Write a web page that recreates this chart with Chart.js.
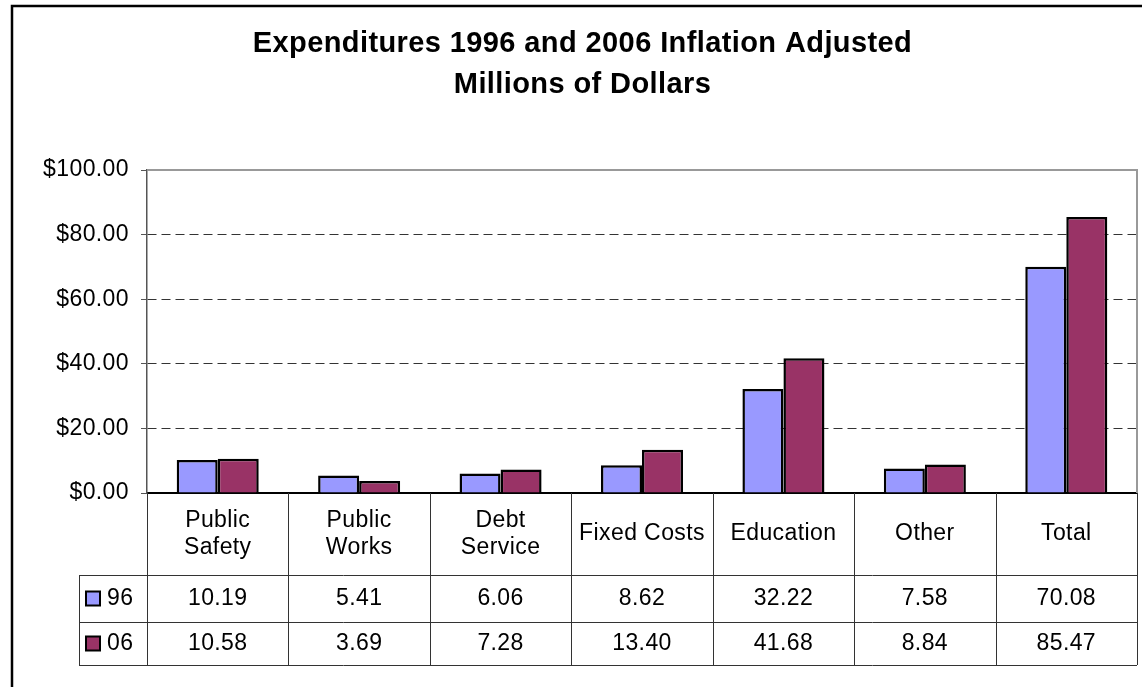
<!DOCTYPE html>
<html>
<head>
<meta charset="utf-8">
<script src="https://cdn.jsdelivr.net/npm/chart.js@4.4.0/dist/chart.umd.min.js"></script>
<style>
  body { margin: 0; background: #fff; }
  #wrap { width: 1142px; height: 687px; }
</style>
</head>
<body>
<div id="wrap"><canvas id="exp" width="1142" height="687"></canvas></div>
<script>
const categories = [['Public', 'Safety'], ['Public', 'Works'], ['Debt', 'Service'], ['Fixed Costs'], ['Education'], ['Other'], ['Total']];
const seriesNames = ['96', '06'];
const values96 = [10.19, 5.41, 6.06, 8.62, 32.22, 7.58, 70.08];
const values06 = [10.58, 3.69, 7.28, 13.40, 41.68, 8.84, 85.47];
const yMax = 100;
const yStep = 20;

const colors = ['#9999ff', '#993366'];
const fontFamily = '"Liberation Sans", Arial, sans-serif';

// the old excel text is a little wider than Arial, loosen it a bit
const spacingPlugin = {
  id: 'spacing',
  beforeLayout(chart) { chart.ctx.letterSpacing = '0.4px'; },
  beforeDraw(chart) { chart.ctx.letterSpacing = '0.4px'; }
};

// outer frame + solid plot border on top/right
const framePlugin = {
  id: 'frame',
  afterDraw(chart) {
    const {ctx, chartArea} = chart;
    ctx.save();
    ctx.strokeStyle = '#000';
    ctx.lineWidth = 2.5;
    ctx.beginPath();
    ctx.moveTo(12, chart.height);
    ctx.lineTo(12, 6);
    ctx.lineTo(chart.width, 6);
    ctx.stroke();

    ctx.strokeStyle = '#999';
    ctx.lineWidth = 2;
    ctx.beginPath();
    ctx.moveTo(chartArea.left, chartArea.top);
    ctx.lineTo(chartArea.right, chartArea.top);
    ctx.lineTo(chartArea.right, chartArea.bottom);
    ctx.stroke();
    ctx.restore();
  }
};

// the data table under the bars
const tablePlugin = {
  id: 'dataTable',
  afterDraw(chart) {
    const {ctx, chartArea, scales: {x}} = chart;
    const top = chartArea.bottom;
    const catBottom = top + 82;
    const row1Bottom = catBottom + 47;
    const row2Bottom = row1Bottom + 43;
    const keyLeft = 79;
    const n = categories.length;
    const crisp = v => Math.round(v) + 0.5;

    ctx.save();
    ctx.strokeStyle = '#333';
    ctx.lineWidth = 1;
    ctx.beginPath();
    for (let i = 0; i <= n; i++) {
      const px = crisp(x.getPixelForValue(i - 0.5));
      ctx.moveTo(px, top);
      ctx.lineTo(px, row2Bottom);
    }
    ctx.moveTo(crisp(keyLeft), catBottom);
    ctx.lineTo(crisp(keyLeft), row2Bottom);
    [catBottom, row1Bottom, row2Bottom].forEach(y => {
      ctx.moveTo(keyLeft, crisp(y));
      ctx.lineTo(chartArea.right, crisp(y));
    });
    ctx.stroke();

    ctx.fillStyle = '#000';
    ctx.textAlign = 'center';
    ctx.textBaseline = 'middle';
    ctx.font = '23px ' + fontFamily;
    const catMid = (top + catBottom) / 2;
    const lineH = 27;
    categories.forEach((lines, i) => {
      const cx = x.getPixelForValue(i);
      const y0 = catMid - (lines.length - 1) * lineH / 2;
      lines.forEach((t, j) => ctx.fillText(t, cx, y0 + j * lineH));
    });

    const rows = [
      {name: seriesNames[0], data: values96, color: colors[0], mid: (catBottom + row1Bottom) / 2},
      {name: seriesNames[1], data: values06, color: colors[1], mid: (row1Bottom + row2Bottom) / 2}
    ];
    rows.forEach(r => {
      r.data.forEach((v, i) => ctx.fillText(v.toFixed(2), x.getPixelForValue(i), r.mid));
      // legend key
      ctx.fillStyle = r.color;
      ctx.fillRect(86, r.mid - 7, 14, 14);
      ctx.strokeStyle = '#000';
      ctx.lineWidth = 2;
      ctx.strokeRect(86, r.mid - 7, 14, 14);
      ctx.fillStyle = '#000';
      ctx.textAlign = 'left';
      ctx.fillText(r.name, 107, r.mid);
      ctx.textAlign = 'center';
    });
    ctx.restore();
  }
};

new Chart(document.getElementById('exp'), {
  type: 'bar',
  data: {
    labels: categories,
    datasets: [
      {label: seriesNames[0], data: values96, backgroundColor: colors[0]},
      {label: seriesNames[1], data: values06, backgroundColor: colors[1]}
    ]
  },
  options: {
    responsive: false,
    animation: false,
    layout: {padding: {left: 28, right: 5, top: 0, bottom: 0}},
    datasets: {
      bar: {
        borderColor: '#000',
        borderWidth: 2.5,
        categoryPercentage: 0.58,
        barPercentage: 1
      }
    },
    plugins: {
      legend: {display: false},
      tooltip: {enabled: false},
      title: {
        display: true,
        text: ['Expenditures 1996 and 2006 Inflation Adjusted', 'Millions of Dollars'],
        color: '#000',
        font: {family: fontFamily, size: 29, weight: 'bold', lineHeight: 1.4},
        padding: {top: 24, bottom: 64.8}
      }
    },
    scales: {
      x: {
        ticks: {display: false},
        grid: {display: false},
        border: {display: true, color: '#000', width: 2},
        afterFit(scale) { scale.height = 194; }
      },
      y: {
        min: 0,
        max: yMax,
        ticks: {
          stepSize: yStep,
          color: '#000',
          padding: 12,
          font: {family: fontFamily, size: 23},
          callback: v => '$' + v.toFixed(2)
        },
        grid: {color: '#333', lineWidth: 1, tickLength: 6, tickColor: '#555'},
        border: {display: true, color: '#555', width: 1.5, dash: [9, 5]},
        afterFit(scale) { scale.width = 119; }
      }
    }
  },
  plugins: [spacingPlugin, framePlugin, tablePlugin]
});
</script>
</body>
</html>
